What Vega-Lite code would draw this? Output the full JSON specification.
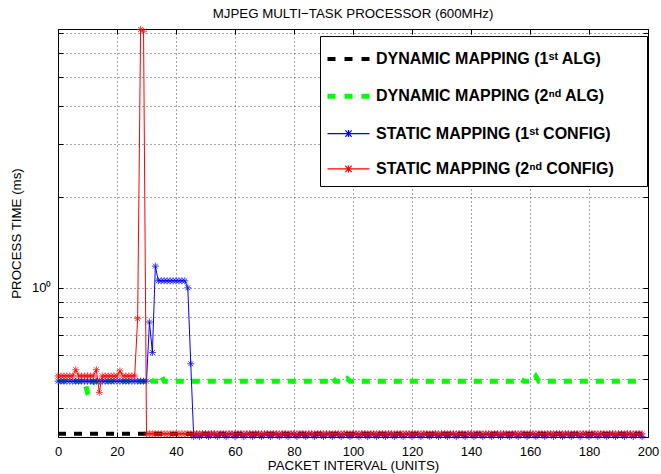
{
  "$schema": "https://vega.github.io/schema/vega-lite/v6.json",
  "width": 590,
  "height": 408,
  "autosize": {"type": "none"},
  "padding": {"left": 58, "top": 29, "right": 13, "bottom": 37},
  "background": "white",
  "title": {"text": "MJPEG MULTI−TASK PROCESSOR (600MHz)", "fontSize": 13.3, "fontWeight": "normal", "font": "Liberation Sans", "color": "#000", "anchor": "middle", "baseline": "alphabetic", "offset": -7, "frame": "group"},
  "datasets": {
    "dyn": [
      {"s": "A", "x": 0, "y": 0.328}, {"s": "A", "x": 198, "y": 0.328},
      {"s": "B", "x": 0, "y": 0.49}, {"s": "B", "x": 9, "y": 0.49}, {"s": "B", "x": 10, "y": 0.45}, {"s": "B", "x": 11, "y": 0.455}, {"s": "B", "x": 12, "y": 0.49},
      {"s": "B", "x": 30, "y": 0.49}, {"s": "B", "x": 31, "y": 0.505}, {"s": "B", "x": 32, "y": 0.49}, {"s": "B", "x": 34, "y": 0.49}, {"s": "B", "x": 35, "y": 0.51}, {"s": "B", "x": 36, "y": 0.49},
      {"s": "B", "x": 92, "y": 0.49}, {"s": "B", "x": 93, "y": 0.505}, {"s": "B", "x": 94, "y": 0.49}, {"s": "B", "x": 97, "y": 0.49}, {"s": "B", "x": 98, "y": 0.5}, {"s": "B", "x": 99, "y": 0.49},
      {"s": "B", "x": 156, "y": 0.49}, {"s": "B", "x": 157, "y": 0.496}, {"s": "B", "x": 158, "y": 0.49}, {"s": "B", "x": 161, "y": 0.49}, {"s": "B", "x": 162, "y": 0.508}, {"s": "B", "x": 163, "y": 0.49}, {"s": "B", "x": 198, "y": 0.49}
    ],
    "stat": [
      {"x":0,"C":0.49,"D":0.51},{"x":1,"C":0.49,"D":0.51},{"x":2,"C":0.49,"D":0.51},{"x":3,"C":0.49,"D":0.51},{"x":4,"C":0.49,"D":0.51},
      {"x":5,"C":0.49,"D":0.51},{"x":6,"C":0.49,"D":0.535},{"x":7,"C":0.49,"D":0.51},{"x":8,"C":0.49,"D":0.51},{"x":9,"C":0.49,"D":0.51},
      {"x":10,"C":0.49,"D":0.51},{"x":11,"C":0.49,"D":0.51},{"x":12,"C":0.49,"D":0.51},{"x":13,"C":0.49,"D":0.535},{"x":14,"C":0.49,"D":0.45},
      {"x":15,"C":0.49,"D":0.51},{"x":16,"C":0.49,"D":0.51},{"x":17,"C":0.49,"D":0.51},{"x":18,"C":0.49,"D":0.51},{"x":19,"C":0.49,"D":0.51},
      {"x":20,"C":0.49,"D":0.51},{"x":21,"C":0.49,"D":0.53},{"x":22,"C":0.49,"D":0.51},{"x":23,"C":0.49,"D":0.51},{"x":24,"C":0.49,"D":0.51},
      {"x":25,"C":0.49,"D":0.51},{"x":26,"C":0.49,"D":0.51},{"x":27,"C":0.49,"D":0.79},{"x":28,"C":0.49,"D":7.2},{"x":29,"C":0.49,"D":7.1},
      {"x":30,"C":0.49,"D":0.328},{"x":31,"C":0.77,"D":0.328},{"x":32,"C":0.61,"D":0.328},{"x":33,"C":1.18,"D":0.328},{"x":34,"C":1.055,"D":0.328},
      {"x":35,"C":1.055,"D":0.328},{"x":36,"C":1.055,"D":0.328},{"x":37,"C":1.055,"D":0.328},{"x":38,"C":1.055,"D":0.328},{"x":39,"C":1.055,"D":0.328},
      {"x":40,"C":1.055,"D":0.328},{"x":41,"C":1.055,"D":0.328},{"x":42,"C":1.055,"D":0.328},{"x":43,"C":1.055,"D":0.328},{"x":44,"C":1.0,"D":0.328},
      {"x":45,"C":0.56,"D":0.328},{"x":46,"C":0.321,"D":0.328},{"x":47,"C":0.327,"D":0.328},{"x":48,"C":0.321,"D":0.328},{"x":49,"C":0.327,"D":0.328},
      {"x":50,"C":0.327,"D":0.328},{"x":51,"C":0.321,"D":0.328},{"x":52,"C":0.327,"D":0.328},{"x":53,"C":0.327,"D":0.328},{"x":54,"C":0.321,"D":0.328},
      {"x":55,"C":0.327,"D":0.328},{"x":56,"C":0.327,"D":0.328},{"x":57,"C":0.321,"D":0.328},{"x":58,"C":0.327,"D":0.328},{"x":59,"C":0.327,"D":0.328},
      {"x":60,"C":0.321,"D":0.328},{"x":61,"C":0.327,"D":0.328},{"x":62,"C":0.327,"D":0.328},{"x":63,"C":0.321,"D":0.328},{"x":64,"C":0.327,"D":0.328},
      {"x":65,"C":0.327,"D":0.328},{"x":66,"C":0.321,"D":0.328},{"x":67,"C":0.327,"D":0.328},{"x":68,"C":0.327,"D":0.328},{"x":69,"C":0.321,"D":0.328},
      {"x":70,"C":0.327,"D":0.328},{"x":71,"C":0.327,"D":0.328},{"x":72,"C":0.321,"D":0.328},{"x":73,"C":0.327,"D":0.328},{"x":74,"C":0.327,"D":0.328},
      {"x":75,"C":0.321,"D":0.328},{"x":76,"C":0.327,"D":0.328},{"x":77,"C":0.327,"D":0.328},{"x":78,"C":0.321,"D":0.328},{"x":79,"C":0.327,"D":0.328},
      {"x":80,"C":0.327,"D":0.328},{"x":81,"C":0.321,"D":0.328},{"x":82,"C":0.327,"D":0.328},{"x":83,"C":0.327,"D":0.328},{"x":84,"C":0.321,"D":0.328},
      {"x":85,"C":0.327,"D":0.328},{"x":86,"C":0.327,"D":0.328},{"x":87,"C":0.321,"D":0.328},{"x":88,"C":0.327,"D":0.328},{"x":89,"C":0.327,"D":0.328},
      {"x":90,"C":0.321,"D":0.328},{"x":91,"C":0.327,"D":0.328},{"x":92,"C":0.327,"D":0.328},{"x":93,"C":0.321,"D":0.328},{"x":94,"C":0.327,"D":0.328},
      {"x":95,"C":0.327,"D":0.328},{"x":96,"C":0.321,"D":0.328},{"x":97,"C":0.327,"D":0.328},{"x":98,"C":0.327,"D":0.328},{"x":99,"C":0.321,"D":0.328},
      {"x":100,"C":0.327,"D":0.328},{"x":101,"C":0.327,"D":0.328},{"x":102,"C":0.321,"D":0.328},{"x":103,"C":0.327,"D":0.328},{"x":104,"C":0.327,"D":0.328},
      {"x":105,"C":0.321,"D":0.328},{"x":106,"C":0.327,"D":0.328},{"x":107,"C":0.327,"D":0.328},{"x":108,"C":0.321,"D":0.328},{"x":109,"C":0.327,"D":0.328},
      {"x":110,"C":0.327,"D":0.328},{"x":111,"C":0.321,"D":0.328},{"x":112,"C":0.327,"D":0.328},{"x":113,"C":0.327,"D":0.328},{"x":114,"C":0.321,"D":0.328},
      {"x":115,"C":0.327,"D":0.328},{"x":116,"C":0.327,"D":0.328},{"x":117,"C":0.321,"D":0.328},{"x":118,"C":0.327,"D":0.328},{"x":119,"C":0.327,"D":0.328},
      {"x":120,"C":0.321,"D":0.328},{"x":121,"C":0.327,"D":0.328},{"x":122,"C":0.327,"D":0.328},{"x":123,"C":0.321,"D":0.328},{"x":124,"C":0.327,"D":0.328},
      {"x":125,"C":0.327,"D":0.328},{"x":126,"C":0.321,"D":0.328},{"x":127,"C":0.327,"D":0.328},{"x":128,"C":0.327,"D":0.328},{"x":129,"C":0.321,"D":0.328},
      {"x":130,"C":0.327,"D":0.328},{"x":131,"C":0.327,"D":0.328},{"x":132,"C":0.321,"D":0.328},{"x":133,"C":0.327,"D":0.328},{"x":134,"C":0.327,"D":0.328},
      {"x":135,"C":0.321,"D":0.328},{"x":136,"C":0.327,"D":0.328},{"x":137,"C":0.327,"D":0.328},{"x":138,"C":0.321,"D":0.328},{"x":139,"C":0.327,"D":0.328},
      {"x":140,"C":0.327,"D":0.328},{"x":141,"C":0.321,"D":0.328},{"x":142,"C":0.327,"D":0.328},{"x":143,"C":0.327,"D":0.328},{"x":144,"C":0.321,"D":0.328},
      {"x":145,"C":0.327,"D":0.328},{"x":146,"C":0.327,"D":0.328},{"x":147,"C":0.321,"D":0.328},{"x":148,"C":0.327,"D":0.328},{"x":149,"C":0.327,"D":0.328},
      {"x":150,"C":0.321,"D":0.328},{"x":151,"C":0.327,"D":0.328},{"x":152,"C":0.327,"D":0.328},{"x":153,"C":0.321,"D":0.328},{"x":154,"C":0.327,"D":0.328},
      {"x":155,"C":0.327,"D":0.328},{"x":156,"C":0.321,"D":0.328},{"x":157,"C":0.327,"D":0.328},{"x":158,"C":0.327,"D":0.328},{"x":159,"C":0.321,"D":0.328},
      {"x":160,"C":0.327,"D":0.328},{"x":161,"C":0.327,"D":0.328},{"x":162,"C":0.321,"D":0.328},{"x":163,"C":0.327,"D":0.328},{"x":164,"C":0.327,"D":0.328},
      {"x":165,"C":0.321,"D":0.328},{"x":166,"C":0.327,"D":0.328},{"x":167,"C":0.327,"D":0.328},{"x":168,"C":0.321,"D":0.328},{"x":169,"C":0.327,"D":0.328},
      {"x":170,"C":0.327,"D":0.328},{"x":171,"C":0.321,"D":0.328},{"x":172,"C":0.327,"D":0.328},{"x":173,"C":0.327,"D":0.328},{"x":174,"C":0.321,"D":0.328},
      {"x":175,"C":0.327,"D":0.328},{"x":176,"C":0.327,"D":0.328},{"x":177,"C":0.321,"D":0.328},{"x":178,"C":0.327,"D":0.328},{"x":179,"C":0.327,"D":0.328},
      {"x":180,"C":0.321,"D":0.328},{"x":181,"C":0.327,"D":0.328},{"x":182,"C":0.327,"D":0.328},{"x":183,"C":0.321,"D":0.328},{"x":184,"C":0.327,"D":0.328},
      {"x":185,"C":0.327,"D":0.328},{"x":186,"C":0.321,"D":0.328},{"x":187,"C":0.327,"D":0.328},{"x":188,"C":0.327,"D":0.328},{"x":189,"C":0.321,"D":0.328},
      {"x":190,"C":0.327,"D":0.328},{"x":191,"C":0.327,"D":0.328},{"x":192,"C":0.321,"D":0.328},{"x":193,"C":0.327,"D":0.328},{"x":194,"C":0.327,"D":0.328},
      {"x":195,"C":0.321,"D":0.328},{"x":196,"C":0.327,"D":0.328},{"x":197,"C":0.327,"D":0.328},{"x":198,"C":0.321,"D":0.328}
    ]
  },
  "config": {
    "font": "Liberation Sans",
    "view": {"stroke": "#000", "strokeWidth": 1},
    "axis": {"labelColor": "#000", "titleColor": "#000", "labelFontSize": 13, "labelFont": "Liberation Sans", "titleFont": "Liberation Sans", "titleFontSize": 13.3, "titleFontWeight": "normal", "gridDash": [1, 3], "gridColor": "#000", "gridOpacity": 0.7, "gridWidth": 1, "domain": false, "tickColor": "#000", "tickSize": -5, "labelPadding": 13, "labelFlush": false}
  },
  "resolve": {"axis": {"x": "independent", "y": "independent"}},
  "layer": [
    {
      "data": {"name": "dyn"},
      "transform": [{"filter": "datum.s == 'A'"}],
      "mark": {"type": "line", "strokeWidth": 4, "strokeDash": [8, 8], "clip": true},
      "encoding": {
        "x": {"field": "x", "type": "quantitative", "scale": {"domain": [0, 200], "nice": false, "zero": false},
              "axis": {"orient": "bottom", "values": [0,20,40,60,80,100,120,140,160,180,200], "format": "d", "labelFlush": false, "title": "PACKET INTERVAL (UNITS)", "titlePadding": 0, "grid": true}},
        "y": {"field": "y", "type": "quantitative", "scale": {"type": "log", "domain": [0.32, 7.22], "nice": false},
              "axis": {"orient": "left", "values": [0.4,0.5,0.6,0.7,0.8,0.9,1,2,3,4,5,6,7], "labelExpr": "datum.value == 1 ? '10⁰' : ''", "labelAlign": "right", "labelPadding": 12, "title": "PROCESS TIME (ms)", "titlePadding": 8, "grid": true}},
        "color": {"field": "s", "type": "nominal",
                  "scale": {"domain": ["A", "B", "C", "D"], "range": ["#000000", "#00ff00", "#0000ff", "#ff0000"]},
                  "legend": {
                    "title": " ", "titleFontSize": 2, "titlePadding": 4, "orient": "none", "legendX": 262, "legendY": 7,
                    "padding": 9, "rowPadding": 19.3, "symbolSize": 196, "symbolOffset": 11.5, "labelOffset": 19.5,
                    "labelFontSize": 16, "labelFontWeight": "bold", "labelFont": "Liberation Sans", "labelColor": "#000",
                    "strokeColor": "#000", "fillColor": "#fff", "cornerRadius": 0, "labelLimit": 400,
                    "labelExpr": "datum.label == 'A' ? 'DYNAMIC MAPPING (1ˢᵗ ALG)' : datum.label == 'B' ? 'DYNAMIC MAPPING (2ⁿᵈ ALG)' : datum.label == 'C' ? 'STATIC MAPPING (1ˢᵗ CONFIG)' : 'STATIC MAPPING (2ⁿᵈ CONFIG)\u2800\u2800'",
                    "encode": {"symbols": {"update": {
                      "shape": {"signal": "datum.value == 'C' || datum.value == 'D' ? 'M-3,0H3M0,-0.5V0.5M-0.45,-0.45L0.45,0.45M-0.45,0.45L0.45,-0.45' : 'M-3,0H3'"},
                      "strokeWidth": {"signal": "datum.value == 'A' ? 4 : datum.value == 'B' ? 5 : 1.2"},
                      "strokeDash": {"signal": "datum.value == 'A' || datum.value == 'B' ? [8, 9] : [1, 0]"},
                      "fill": {"value": "transparent"},
                      "opacity": {"value": 1}
                    }}}
                  }}
      }
    },
    {
      "data": {"name": "dyn"},
      "transform": [{"filter": "datum.s == 'B'"}],
      "mark": {"type": "line", "strokeWidth": 5, "strokeDash": [8, 8], "clip": true},
      "encoding": {
        "x": {"field": "x", "type": "quantitative", "axis": null},
        "y": {"field": "y", "type": "quantitative", "axis": null},
        "color": {"field": "s", "type": "nominal"}
      }
    },
    {
      "data": {"name": "stat"},
      "transform": [{"fold": ["C"], "as": ["s", "y"]}],
      "mark": {"type": "line", "strokeWidth": 1, "clip": true},
      "encoding": {
        "x": {"field": "x", "type": "quantitative", "axis": null},
        "y": {"field": "y", "type": "quantitative", "axis": null},
        "color": {"field": "s", "type": "nominal"}
      }
    },
    {
      "data": {"name": "stat"},
      "transform": [{"fold": ["C"], "as": ["s", "y"]}],
      "mark": {"type": "point", "shape": "M0,-1V1M-1,0H1M-0.7,-0.7L0.7,0.7M-0.7,0.7L0.7,-0.7", "size": 49, "filled": false, "strokeWidth": 1, "opacity": 0.75},
      "encoding": {
        "x": {"field": "x", "type": "quantitative", "axis": null},
        "y": {"field": "y", "type": "quantitative", "axis": null},
        "color": {"field": "s", "type": "nominal", "legend": null}
      }
    },
    {
      "data": {"name": "stat"},
      "transform": [{"fold": ["D"], "as": ["s", "y"]}],
      "mark": {"type": "line", "strokeWidth": 1, "clip": true},
      "encoding": {
        "x": {"field": "x", "type": "quantitative", "axis": null},
        "y": {"field": "y", "type": "quantitative", "axis": null},
        "color": {"field": "s", "type": "nominal"}
      }
    },
    {
      "data": {"name": "stat"},
      "transform": [{"fold": ["D"], "as": ["s", "y"]}],
      "mark": {"type": "point", "shape": "M0,-1V1M-1,0H1M-0.7,-0.7L0.7,0.7M-0.7,0.7L0.7,-0.7", "size": 49, "filled": false, "strokeWidth": 1, "opacity": 0.75},
      "encoding": {
        "x": {"field": "x", "type": "quantitative",
              "axis": {"orient": "top", "values": [0,20,40,60,80,100,120,140,160,180,200], "labels": false, "title": null, "grid": false}},
        "y": {"field": "y", "type": "quantitative",
              "axis": {"orient": "right", "values": [0.4,0.5,0.6,0.7,0.8,0.9,1,2,3,4,5,6,7], "labels": false, "title": null, "grid": false}},
        "color": {"field": "s", "type": "nominal", "legend": null}
      }
    }
  ]
}
